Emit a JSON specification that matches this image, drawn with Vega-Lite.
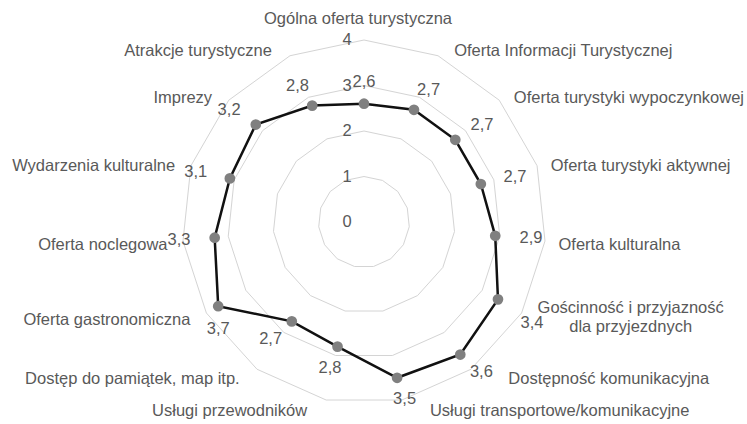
{
  "$schema": "https://vega.github.io/schema/vega-lite/v6.json",
  "width": 364,
  "height": 364,
  "autosize": "none",
  "padding": {"left": 182, "top": 40, "right": 201, "bottom": 20},
  "background": "white",
  "config": {
    "view": {"stroke": null},
    "locale": {"number": {"decimal": ",", "thousands": " ", "grouping": [3], "currency": ["", " zł"]}},
    "text": {"font": "Liberation Sans", "fontSize": 16.5, "color": "#595959"}
  },
  "datasets": {
    "scores": [
      {"idx": 0, "category": "Ogólna oferta turystyczna", "value": 2.6},
      {"idx": 1, "category": "Oferta Informacji Turystycznej", "value": 2.7},
      {"idx": 2, "category": "Oferta turystyki wypoczynkowej", "value": 2.7},
      {"idx": 3, "category": "Oferta turystyki aktywnej", "value": 2.7},
      {"idx": 4, "category": "Oferta kulturalna", "value": 2.9},
      {"idx": 5, "category": "Gościnność i przyjazność\ndla przyjezdnych", "value": 3.4},
      {"idx": 6, "category": "Dostępność komunikacyjna", "value": 3.6},
      {"idx": 7, "category": "Usługi transportowe/komunikacyjne", "value": 3.5},
      {"idx": 8, "category": "Usługi przewodników", "value": 2.8},
      {"idx": 9, "category": "Dostęp do pamiątek, map itp.", "value": 2.7},
      {"idx": 10, "category": "Oferta gastronomiczna", "value": 3.7},
      {"idx": 11, "category": "Oferta noclegowa", "value": 3.3},
      {"idx": 12, "category": "Wydarzenia kulturalne", "value": 3.1},
      {"idx": 13, "category": "Imprezy", "value": 3.2},
      {"idx": 14, "category": "Atrakcje turystyczne", "value": 2.8}
    ],
    "ticks": [{"tick": 0}, {"tick": 1}, {"tick": 2}, {"tick": 3}, {"tick": 4}]
  },
  "layer": [
    {
      "data": {"name": "scores"},
      "transform": [
        {"calculate": "[1, 2, 3, 4]", "as": "levels"},
        {"flatten": ["levels"], "as": ["level"]},
        {"calculate": "datum.idx * 2 * PI / 15", "as": "a"},
        {"calculate": "datum.level * sin(datum.a)", "as": "x"},
        {"calculate": "datum.level * cos(datum.a)", "as": "y"}
      ],
      "mark": {"type": "line", "interpolate": "linear-closed", "stroke": "#d4d4d4", "strokeWidth": 1},
      "encoding": {
        "x": {"field": "x", "type": "quantitative", "scale": {"domain": [-4, 4], "nice": false}, "axis": null},
        "y": {"field": "y", "type": "quantitative", "scale": {"domain": [-4, 4], "nice": false}, "axis": null},
        "detail": {"field": "level"},
        "order": {"field": "idx"}
      }
    },
    {
      "data": {"name": "scores"},
      "transform": [
        {"calculate": "datum.idx * 2 * PI / 15", "as": "a"},
        {"calculate": "datum.value * sin(datum.a)", "as": "x"},
        {"calculate": "datum.value * cos(datum.a)", "as": "y"}
      ],
      "mark": {"type": "line", "interpolate": "linear-closed", "stroke": "#111111", "strokeWidth": 2.5},
      "encoding": {
        "x": {"field": "x", "type": "quantitative"},
        "y": {"field": "y", "type": "quantitative"},
        "order": {"field": "idx"}
      }
    },
    {
      "data": {"name": "scores"},
      "transform": [
        {"calculate": "datum.idx * 2 * PI / 15", "as": "a"},
        {"calculate": "datum.value * sin(datum.a)", "as": "x"},
        {"calculate": "datum.value * cos(datum.a)", "as": "y"}
      ],
      "mark": {"type": "circle", "size": 115, "color": "#808080", "opacity": 1},
      "encoding": {
        "x": {"field": "x", "type": "quantitative"},
        "y": {"field": "y", "type": "quantitative"}
      }
    },
    {
      "data": {"name": "scores"},
      "transform": [
        {"filter": "datum.idx != 10 && datum.idx != 5"},
        {"calculate": "datum.idx * 2 * PI / 15", "as": "a"},
        {"calculate": "(datum.value + 0.79) * sin(datum.a)", "as": "x"},
        {"calculate": "(datum.value + 0.48) * cos(datum.a)", "as": "y"}
      ],
      "mark": {"type": "text", "align": "center", "baseline": "middle"},
      "encoding": {
        "x": {"field": "x", "type": "quantitative"},
        "y": {"field": "y", "type": "quantitative"},
        "text": {"field": "value", "type": "quantitative", "format": ".1f"}
      }
    },
    {
      "data": {"name": "scores"},
      "transform": [
        {"filter": "datum.idx == 10"},
        {"calculate": "datum.idx * 2 * PI / 15", "as": "a"},
        {"calculate": "datum.value * sin(datum.a)", "as": "x"},
        {"calculate": "datum.value * cos(datum.a)", "as": "y"}
      ],
      "mark": {"type": "text", "align": "center", "baseline": "middle", "dy": 23},
      "encoding": {
        "x": {"field": "x", "type": "quantitative"},
        "y": {"field": "y", "type": "quantitative"},
        "text": {"field": "value", "type": "quantitative", "format": ".1f"}
      }
    },
    {
      "data": {"name": "scores"},
      "transform": [
        {"filter": "datum.idx == 5"},
        {"calculate": "datum.idx * 2 * PI / 15", "as": "a"},
        {"calculate": "datum.value * sin(datum.a)", "as": "x"},
        {"calculate": "datum.value * cos(datum.a)", "as": "y"}
      ],
      "mark": {"type": "text", "align": "center", "baseline": "middle", "dx": 34, "dy": 24},
      "encoding": {
        "x": {"field": "x", "type": "quantitative"},
        "y": {"field": "y", "type": "quantitative"},
        "text": {"field": "value", "type": "quantitative", "format": ".1f"}
      }
    },
    {
      "data": {"name": "ticks"},
      "mark": {"type": "text", "align": "center", "baseline": "middle", "dx": -17},
      "encoding": {
        "x": {"datum": 0, "type": "quantitative"},
        "y": {"field": "tick", "type": "quantitative"},
        "text": {"field": "tick", "type": "quantitative"}
      }
    },
    {
      "data": {"name": "scores"},
      "transform": [
        {"filter": "datum.idx == 0"},
        {"calculate": "datum.idx * 2 * PI / 15", "as": "a"},
        {"calculate": "4.46 * sin(datum.a)", "as": "x"},
        {"calculate": "4.46 * cos(datum.a)", "as": "y"}
      ],
      "mark": {"type": "text", "align": "center", "baseline": "middle", "dx": -6},
      "encoding": {
        "x": {"field": "x", "type": "quantitative"},
        "y": {"field": "y", "type": "quantitative"},
        "text": {"field": "category"}
      }
    },
    {
      "data": {"name": "scores"},
      "transform": [
        {"filter": "datum.idx >= 1 && datum.idx <= 4"},
        {"calculate": "datum.idx * 2 * PI / 15", "as": "a"},
        {"calculate": "3.9 * sin(datum.a)", "as": "x"},
        {"calculate": "4.18 * cos(datum.a)", "as": "y"}
      ],
      "mark": {"type": "text", "align": "left", "baseline": "middle", "dx": 18, "dy": 3},
      "encoding": {
        "x": {"field": "x", "type": "quantitative"},
        "y": {"field": "y", "type": "quantitative"},
        "text": {"field": "category"}
      }
    },
    {
      "data": {"name": "scores"},
      "transform": [
        {"filter": "datum.idx == 5"},
        {"calculate": "datum.idx * 2 * PI / 15", "as": "a"},
        {"calculate": "3.9 * sin(datum.a)", "as": "x"},
        {"calculate": "4.18 * cos(datum.a)", "as": "y"}
      ],
      "mark": {"type": "text", "align": "center", "baseline": "middle", "dx": 113, "dy": -9, "lineBreak": "\n", "lineHeight": 19},
      "encoding": {
        "x": {"field": "x", "type": "quantitative"},
        "y": {"field": "y", "type": "quantitative"},
        "text": {"field": "category"}
      }
    },
    {
      "data": {"name": "scores"},
      "transform": [
        {"filter": "datum.idx == 6"},
        {"calculate": "datum.idx * 2 * PI / 15", "as": "a"},
        {"calculate": "3.9 * sin(datum.a)", "as": "x"},
        {"calculate": "4.18 * cos(datum.a)", "as": "y"}
      ],
      "mark": {"type": "text", "align": "left", "baseline": "middle", "dx": 40, "dy": 3},
      "encoding": {
        "x": {"field": "x", "type": "quantitative"},
        "y": {"field": "y", "type": "quantitative"},
        "text": {"field": "category"}
      }
    },
    {
      "data": {"name": "scores"},
      "transform": [
        {"filter": "datum.idx == 7"},
        {"calculate": "datum.idx * 2 * PI / 15", "as": "a"},
        {"calculate": "3.9 * sin(datum.a)", "as": "x"},
        {"calculate": "4.18 * cos(datum.a)", "as": "y"}
      ],
      "mark": {"type": "text", "align": "left", "baseline": "middle", "dx": 29, "dy": 3},
      "encoding": {
        "x": {"field": "x", "type": "quantitative"},
        "y": {"field": "y", "type": "quantitative"},
        "text": {"field": "category"}
      }
    },
    {
      "data": {"name": "scores"},
      "transform": [
        {"filter": "datum.idx >= 8"},
        {"calculate": "datum.idx * 2 * PI / 15", "as": "a"},
        {"calculate": "3.9 * sin(datum.a)", "as": "x"},
        {"calculate": "4.18 * cos(datum.a)", "as": "y"}
      ],
      "mark": {"type": "text", "align": "right", "baseline": "middle", "dx": -20, "dy": 3},
      "encoding": {
        "x": {"field": "x", "type": "quantitative"},
        "y": {"field": "y", "type": "quantitative"},
        "text": {"field": "category"}
      }
    }
  ]
}
